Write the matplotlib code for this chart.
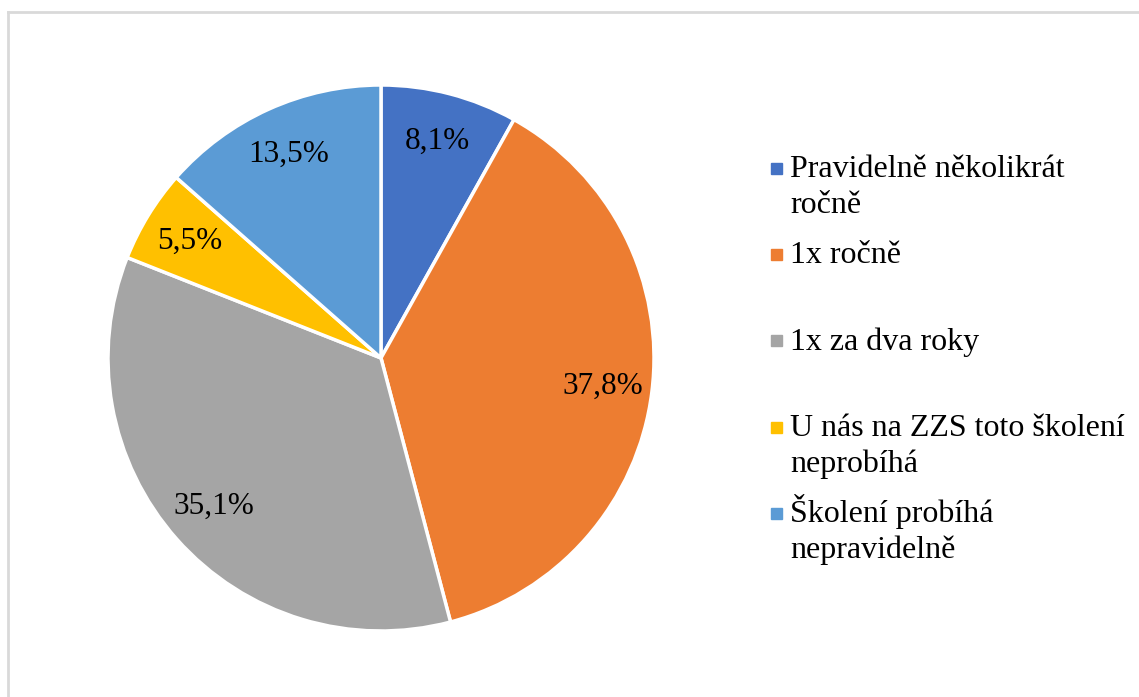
import matplotlib
matplotlib.use('Agg')
import matplotlib.pyplot as plt
from matplotlib.patches import Rectangle
from matplotlib.lines import Line2D

# -------------------------------
# data
# -------------------------------
categories = [
    "Pravidelně několikrát\nročně",
    "1x ročně",
    "1x za dva roky",
    "U nás na ZZS toto školení\nneprobíhá",
    "Školení probíhá\nnepravidelně",
]
shares = [8.1, 37.8, 35.1, 5.5, 13.5]
colors = ["#4472C4", "#ED7D31", "#A5A5A5", "#FFC000", "#5B9BD5"]

W, H = 1139, 697
plt.rcParams['font.family'] = ['Liberation Serif', 'DejaVu Serif']

fig = plt.figure(figsize=(W / 100, H / 100), dpi=100)

def px(x, y):
    """pixel coords (top-left origin) -> figure fraction"""
    return x / W, 1 - y / H

# chart frame (top and left edge only)
fig.add_artist(Line2D([8 / W, 1], [1 - 12 / H] * 2, color="#D9D9D9", lw=2))
fig.add_artist(Line2D([8 / W] * 2, [0, 1 - 12 / H], color="#D9D9D9", lw=2))

# pie
cx, cy, r = 381, 358, 273
ax = fig.add_axes([(cx - r) / W, 1 - (cy + r) / H, 2 * r / W, 2 * r / H])
wedges, texts, autotexts = ax.pie(
    shares, colors=colors, startangle=90, counterclock=False,
    autopct=lambda p: f"{p:.1f}%".replace(".", ","),
    pctdistance=0.82,
    wedgeprops=dict(edgecolor="white", linewidth=2.5),
    textprops=dict(fontsize=22.5, color="black"),
)
for w in wedges:
    w.set_clip_on(False)
ax.set_xlim(-1, 1)
ax.set_ylim(-1, 1)
ax.set_aspect("equal")

# legend: square marker next to first line, wrapped lines below
legend_y = [168, 254, 341, 427, 513]
sq = 11
line_gap = 36
for label, col, y in zip(categories, colors, legend_y):
    x0, y0 = px(776 - sq / 2, y + sq / 2)
    fig.add_artist(Rectangle((x0, y0), sq / W, sq / H, color=col,
                             transform=fig.transFigure))
    for k, line in enumerate(label.split("\n")):
        tx, ty = px(790, y + 9 + k * line_gap)
        fig.text(tx, ty, line, fontsize=23, va="baseline", ha="left",
                 color="black")

plt.savefig("out.png", dpi=100)
